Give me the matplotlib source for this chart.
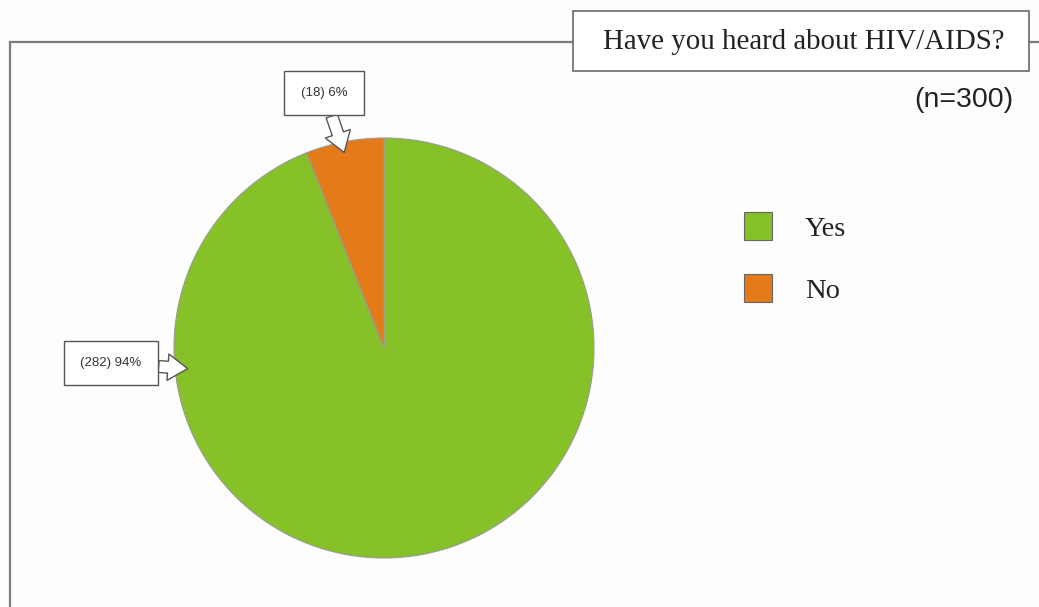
import matplotlib
matplotlib.use("Agg")
import matplotlib.pyplot as plt
from matplotlib.patches import Rectangle
from matplotlib.lines import Line2D
import numpy as np

# Survey answers
categories = ["Yes", "No"]
counts = [282, 18]
percents = [94, 6]
total = 300
title = "Have you heard about HIV/AIDS?"
colors = ["#86c127", "#e57a18"]

W, H = 1039, 607
fig = plt.figure(figsize=(W / 100, H / 100), dpi=100, facecolor="#fdfdfd")

def fx(px):
    return px / W

def fy(py):
    return 1 - py / H

# Outer frame lines (top and left)
frame_col = "#7a7a7a"
fig.add_artist(Line2D([fx(10), fx(W)], [fy(42), fy(42)], color=frame_col, lw=1.6,
                      transform=fig.transFigure, zorder=1))
fig.add_artist(Line2D([fx(10), fx(10)], [fy(42), 0], color=frame_col, lw=1.6,
                      transform=fig.transFigure, zorder=1))

# Title box
fig.add_artist(Rectangle((fx(573), fy(71)), fx(1029) - fx(573), fy(11) - fy(71),
                         transform=fig.transFigure, facecolor="white",
                         edgecolor="#6a6a6a", lw=1.2, zorder=3))
fig.text(fx(804), fy(42), title, family="Liberation Serif", fontsize=20.8,
         color="#222222", ha="center", va="center", zorder=4)
fig.text(fx(1013), fy(100), f"(n={total})", family="Liberation Sans", fontsize=20.5,
         color="#222222", ha="right", va="center")

# Pie
cx, cy, r = 384, 348, 210
ax = fig.add_axes([fx(cx - r), fy(cy + r), 2 * r / W, 2 * r / H])
ax.set_facecolor("none")
wedges, _ = ax.pie(counts, colors=colors, startangle=90, counterclock=False,
                   radius=1.0, wedgeprops=dict(edgecolor="#9a9a9a", linewidth=0.8))
ax.set_xlim(-1, 1)
ax.set_ylim(-1, 1)
ax.set_aspect("equal")
ax.axis("off")

# Callout labels with block arrows
label_texts = [f"({c}) {p}%" for c, p in zip(counts, percents)]
tip_angles = [186.0, 101.5]
tip_radius = [0.94, 0.95]
box_centers = [(111, 363), (324, 93)]
for txt, ang, rr, (bx, by) in zip(label_texts, tip_angles, tip_radius, box_centers):
    a = np.deg2rad(ang)
    tip = (rr * np.cos(a), rr * np.sin(a))
    ax.annotate(txt, xy=tip, xycoords="data",
                xytext=(bx, H - by), textcoords="figure pixels",
                family="Liberation Sans", fontsize=9.5, color="#333333",
                ha="center", va="center",
                bbox=dict(boxstyle="square,pad=1.25", fc="white", ec="#555555", lw=1.0),
                arrowprops=dict(arrowstyle="simple,head_length=0.75,head_width=1.0,tail_width=0.45",
                                fc="white", ec="#555555", lw=1.0, mutation_scale=19,
                                shrinkA=0, shrinkB=0),
                annotation_clip=False)

# Legend
leg = fig.legend(wedges, categories, loc="upper left",
                 bbox_to_anchor=(fx(744), fy(212)), bbox_transform=fig.transFigure,
                 frameon=False, borderpad=0, borderaxespad=0,
                 handlelength=0.98, handleheight=1.13, handletextpad=1.15,
                 labelspacing=1.15, prop=dict(family="Liberation Serif", size=20.5))
for t in leg.get_texts():
    t.set_color("#222222")
for h in leg.legend_handles:
    h.set_edgecolor("#666666")

fig.savefig("out.png", dpi=100, facecolor=fig.get_facecolor())
